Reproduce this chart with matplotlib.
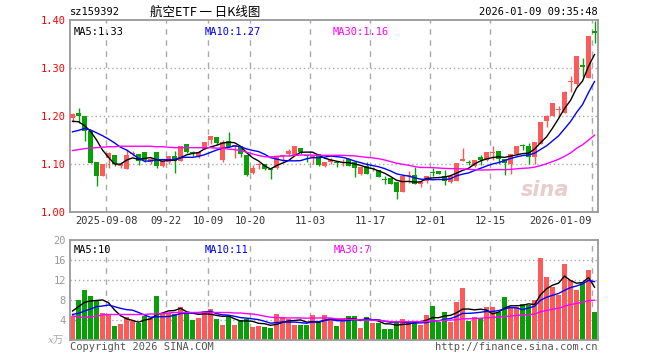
import numpy as np
import pandas as pd
import matplotlib
matplotlib.use("Agg")
import matplotlib.pyplot as plt


# daily K data, 88 sessions (2025-08-29 .. 2026-01-09)
opens = [1.195, 1.207, 1.199, 1.168, 1.105, 1.076, 1.112, 1.119, 1.096, 1.090,
	1.121, 1.121, 1.126, 1.105, 1.124, 1.096, 1.105, 1.117, 1.107, 1.142,
	1.123, 1.117, 1.131, 1.151, 1.156, 1.108, 1.147, 1.135, 1.137, 1.119,
	1.082, 1.097, 1.101, 1.089, 1.092, 1.116, 1.121, 1.119, 1.133, 1.118,
	1.113, 1.121, 1.095, 1.104, 1.103, 1.102, 1.110, 1.105, 1.080, 1.096,
	1.089, 1.088, 1.068, 1.071, 1.062, 1.041, 1.075, 1.078, 1.059, 1.064,
	1.083, 1.086, 1.074, 1.062, 1.064, 1.106, 1.103, 1.096, 1.115, 1.109,
	1.123, 1.128, 1.110, 1.101, 1.121, 1.138, 1.138, 1.115, 1.142, 1.189,
	1.199, 1.212, 1.206, 1.271, 1.267, 1.307, 1.279, 1.378]
highs = [1.207, 1.217, 1.200, 1.168, 1.105, 1.100, 1.126, 1.119, 1.104, 1.131,
	1.128, 1.121, 1.126, 1.113, 1.126, 1.107, 1.117, 1.128, 1.138, 1.142,
	1.127, 1.126, 1.145, 1.159, 1.156, 1.149, 1.167, 1.140, 1.138, 1.119,
	1.097, 1.103, 1.101, 1.092, 1.114, 1.119, 1.131, 1.138, 1.133, 1.119,
	1.118, 1.121, 1.105, 1.112, 1.106, 1.110, 1.111, 1.105, 1.093, 1.104,
	1.094, 1.088, 1.075, 1.071, 1.062, 1.076, 1.085, 1.094, 1.062, 1.076,
	1.092, 1.086, 1.088, 1.078, 1.103, 1.133, 1.108, 1.109, 1.119, 1.124,
	1.138, 1.128, 1.110, 1.121, 1.137, 1.142, 1.144, 1.145, 1.187, 1.203,
	1.228, 1.220, 1.252, 1.284, 1.326, 1.321, 1.367, 1.397]
lows = [1.187, 1.186, 1.147, 1.103, 1.055, 1.074, 1.092, 1.096, 1.092, 1.090,
	1.117, 1.097, 1.105, 1.100, 1.092, 1.094, 1.100, 1.082, 1.107, 1.122,
	1.117, 1.112, 1.131, 1.142, 1.140, 1.105, 1.135, 1.112, 1.115, 1.074,
	1.080, 1.090, 1.087, 1.069, 1.090, 1.105, 1.116, 1.119, 1.121, 1.105,
	1.100, 1.096, 1.093, 1.100, 1.093, 1.096, 1.096, 1.073, 1.078, 1.080,
	1.085, 1.073, 1.059, 1.059, 1.028, 1.041, 1.061, 1.059, 1.052, 1.061,
	1.076, 1.080, 1.057, 1.060, 1.064, 1.106, 1.098, 1.094, 1.098, 1.107,
	1.109, 1.099, 1.078, 1.079, 1.119, 1.130, 1.099, 1.099, 1.142, 1.178,
	1.199, 1.199, 1.206, 1.249, 1.262, 1.281, 1.279, 1.353]
closes = [1.205, 1.199, 1.168, 1.103, 1.076, 1.099, 1.123, 1.099, 1.101, 1.118,
	1.123, 1.107, 1.109, 1.110, 1.096, 1.107, 1.117, 1.107, 1.138, 1.126,
	1.122, 1.126, 1.145, 1.158, 1.144, 1.145, 1.135, 1.140, 1.121, 1.078,
	1.092, 1.101, 1.090, 1.087, 1.114, 1.117, 1.128, 1.137, 1.126, 1.116,
	1.116, 1.098, 1.105, 1.108, 1.102, 1.103, 1.096, 1.092, 1.093, 1.080,
	1.091, 1.073, 1.067, 1.059, 1.041, 1.076, 1.076, 1.059, 1.062, 1.076,
	1.082, 1.080, 1.064, 1.076, 1.103, 1.110, 1.102, 1.109, 1.108, 1.124,
	1.124, 1.110, 1.103, 1.121, 1.137, 1.137, 1.115, 1.145, 1.187, 1.199,
	1.228, 1.213, 1.251, 1.272, 1.326, 1.302, 1.367, 1.373]
# volume, 万手
volumes = [4.87, 8.0, 10.0, 8.87, 7.8, 5.4, 5.2, 2.8, 3.2, 4.6,
	3.8, 3.4, 4.9, 4.4, 8.8, 5.5, 5.5, 5.3, 6.6, 5.4,
	4.0, 4.4, 5.8, 6.2, 4.2, 3.0, 4.8, 3.0, 4.0, 4.3,
	2.6, 2.8, 2.6, 2.4, 5.2, 4.6, 4.3, 3.0, 3.0, 3.0,
	5.0, 3.6, 5.0, 4.33, 2.87, 4.33, 4.87, 4.87, 2.47, 4.67,
	3.47, 3.47, 2.2, 2.2, 3.53, 4.2, 3.8, 3.8, 3.0, 5.0,
	6.8, 3.67, 5.53, 3.67, 7.53, 10.47, 3.8, 4.67, 4.33, 6.67,
	6.67, 5.53, 8.67, 6.67, 6.67, 7.13, 7.0, 8.0, 16.47, 12.67,
	10.67, 9.0, 15.13, 12.0, 10.0, 11.33, 14.0, 5.53]

# MA values before the window has enough sessions
ma5_head = [1.189, 1.188, 1.180, 1.168]
ma10_head = [1.167, 1.170, 1.174, 1.171, 1.165, 1.159, 1.152, 1.144, 1.135]
ma30_head = [1.128, 1.130, 1.132, 1.133, 1.134, 1.135, 1.136, 1.136, 1.137, 1.137,
	1.137, 1.137, 1.137, 1.137, 1.136, 1.136, 1.135, 1.134, 1.134, 1.134,
	1.134, 1.134, 1.134, 1.134, 1.133, 1.133, 1.131, 1.130, 1.128]
vma5_head = [5.8, 6.67, 7.53, 7.8]
vma10_head = [5.13, 5.33, 5.8, 6.2, 6.67, 6.8, 7.0, 6.67, 6.33]
vma30_head = [4.87, 4.6, 4.5, 4.6, 4.8, 5.0, 5.1, 5.1, 5.1, 5.1,
	5.1, 5.1, 5.1, 5.2, 5.2, 5.3, 5.4, 5.5, 5.5, 5.5,
	5.5, 5.5, 5.5, 5.5, 5.5, 5.5, 5.5, 5.4, 5.4]

date_index = [6, 16, 23, 30, 40, 50, 60, 70, 87]
date_labels = ["2025-09-08", "09-22", "10-09", "10-20", "11-03", "11-17", "12-01", "12-15", "2026-01-09"]
price_ticks = [1.00, 1.10, 1.20, 1.30, 1.40]
vol_ticks = [4, 8, 12, 16, 20]

RED = "#ff5a5a"
GREEN = "#08a008"
GRID = "#aaaaaa"
FRAME = "#999999"
MONO = "DejaVu Sans Mono"


def moving_avg(vals, n, head):
	ma = pd.Series(vals).rolling(n).mean().to_numpy()
	ma[:len(head)] = head
	return ma
#end_def


def px_axes(fig, left, top, right, bottom):
	W, H = 660.0, 360.0
	return fig.add_axes([left / W, 1 - bottom / H, (right - left) / W, (bottom - top) / H])
#end_def


def frame(ax):
	for s in ax.spines.values():
		s.set_color(FRAME)
		s.set_linewidth(1.3)
	#end_for
	ax.set_xlim(-0.42, 87.58)
	for k in date_index:
		ax.axvline(k - 0.42, color=GRID, lw=1, ls=(0, (4, 4)), zorder=0)
	#end_for
#end_def


def main():

	fig = plt.figure(figsize=(6.6, 3.6), dpi=100)
	fig.patch.set_facecolor("white")

	x = np.arange(len(closes))
	colors = [RED if c >= o else GREEN for o, c in zip(opens, closes)]
	bottoms = np.minimum(opens, closes)
	heights = np.maximum(np.abs(np.array(closes) - np.array(opens)), 0.0021)

	# --- price panel
	ax = px_axes(fig, 70, 20, 598, 212)
	frame(ax)
	ax.set_ylim(1.0, 1.4)
	for t in price_ticks[1:-1]:
		ax.axhline(t, color=GRID, lw=1, ls=(0, (1, 2)), zorder=0)
	#end_for
	ax.vlines(x, lows, highs, colors=colors, lw=1, zorder=2)
	ax.bar(x, heights, bottom=bottoms, width=0.8, color=colors, lw=0, zorder=3)

	ax.plot(x, moving_avg(closes, 5, ma5_head), color="black", lw=1, zorder=4)
	ax.plot(x, moving_avg(closes, 10, ma10_head), color="#0000ff", lw=1, zorder=4)
	ax.plot(x, moving_avg(closes, 30, ma30_head), color="#ff00ff", lw=1, zorder=4)

	ax.set_yticks(price_ticks)
	ax.set_yticklabels(["%.2f" % t for t in price_ticks], color="red", fontfamily=MONO, fontsize=7.5)
	ax.set_xticks([k - 0.42 for k in date_index])
	ax.set_xticklabels(date_labels, fontfamily=MONO, fontsize=7.5, color="#333333")
	ax.get_xticklabels()[-1].set_ha("right")
	ax.tick_params(length=0, pad=3)

	ax.text(0.006, 0.965, "MA5:1.33", transform=ax.transAxes, color="black", fontfamily=MONO, fontsize=7.5, va="top")
	ax.text(0.255, 0.965, "MA10:1.27", transform=ax.transAxes, color="#0000ff", fontfamily=MONO, fontsize=7.5, va="top")
	ax.text(0.497, 0.965, "MA30:1.16", transform=ax.transAxes, color="#ff00ff", fontfamily=MONO, fontsize=7.5, va="top")
	ax.text(0.945, 0.06, "sina", transform=ax.transAxes, color="#e9cccc", fontsize=15,
		fontweight="bold", fontstyle="italic", ha="right", va="bottom", zorder=1)

	# --- volume panel
	av = px_axes(fig, 70, 240, 598, 340)
	frame(av)
	av.set_ylim(0, 20)
	for t in vol_ticks[:-1]:
		av.axhline(t, color=GRID, lw=1, ls=(0, (1, 2)), zorder=0)
	#end_for
	av.bar(x, volumes, width=0.8, color=colors, lw=0, zorder=2)
	av.plot(x, moving_avg(volumes, 5, vma5_head), color="black", lw=1, zorder=4)
	av.plot(x, moving_avg(volumes, 10, vma10_head), color="#0000ff", lw=1, zorder=4)
	av.plot(x, moving_avg(volumes, 30, vma30_head), color="#ff00ff", lw=1, zorder=4)
	av.set_yticks(vol_ticks)
	av.set_yticklabels([str(t) for t in vol_ticks], color="#999999", fontfamily=MONO, fontsize=7.5)
	av.set_xticks([])
	av.tick_params(length=0, pad=3)

	av.text(0.006, 0.95, "MA5:10", transform=av.transAxes, color="black", fontfamily=MONO, fontsize=7.5, va="top")
	av.text(0.255, 0.95, "MA10:11", transform=av.transAxes, color="#0000ff", fontfamily=MONO, fontsize=7.5, va="top")
	av.text(0.5, 0.95, "MA30:7", transform=av.transAxes, color="#ff00ff", fontfamily=MONO, fontsize=7.5, va="top")

	# --- header / footer
	fig.text(70 / 660, 1 - 12 / 360, "sz159392", fontfamily=MONO, fontsize=7.5, va="center")
	fig.text(150 / 660, 1 - 12 / 360, "航空ETF 一 日K线图", family=["Noto Sans CJK SC", "DejaVu Sans"],
		fontsize=9, va="center")
	fig.text(598 / 660, 1 - 12 / 360, "2026-01-09 09:35:48", fontfamily=MONO, fontsize=7.5, va="center", ha="right")
	fig.text(64 / 660, 1 - 341 / 360, "x万", family=["DejaVu Serif", "Noto Sans CJK SC"], fontstyle="italic",
		color="#aaaaaa", fontsize=7.5, va="center", ha="right")
	fig.text(70 / 660, 1 - 347 / 360, "Copyright 2026 SINA.COM", fontfamily=MONO, fontsize=7.5,
		color="#555555", va="center")
	fig.text(598 / 660, 1 - 347 / 360, "http://finance.sina.com.cn", fontfamily=MONO, fontsize=7.5,
		color="#555555", va="center", ha="right")

	fig.savefig("out.png", dpi=100, facecolor="white")

	return

#end_def


main()
